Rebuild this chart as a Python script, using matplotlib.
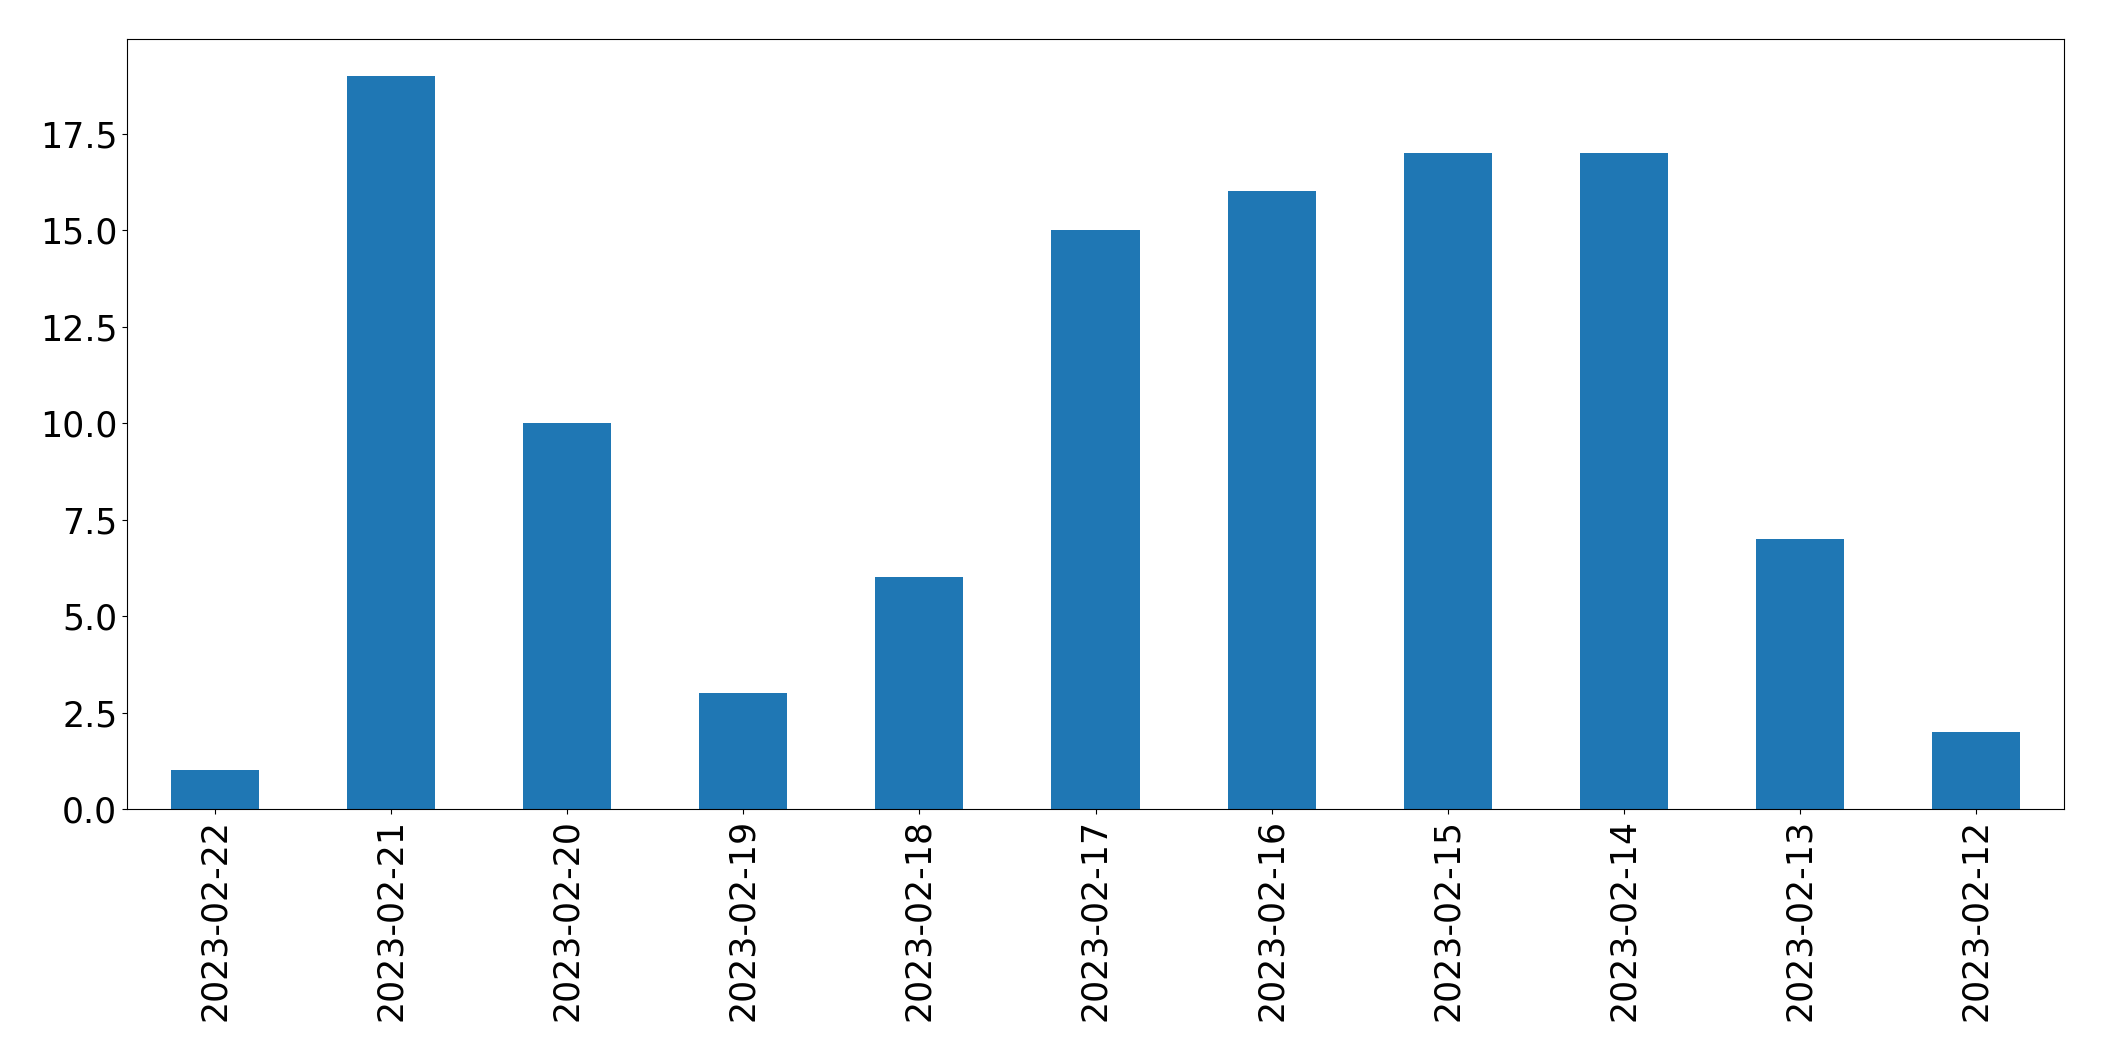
import matplotlib
matplotlib.use("Agg")
import matplotlib.pyplot as plt

# daily counts, newest first
dates = ["2023-02-22", "2023-02-21", "2023-02-20", "2023-02-19", "2023-02-18",
         "2023-02-17", "2023-02-16", "2023-02-15", "2023-02-14", "2023-02-13",
         "2023-02-12"]
counts = [1, 19, 10, 3, 6, 15, 16, 17, 17, 7, 2]

fig, ax = plt.subplots(figsize=(21.04, 10.61), dpi=100)
x = range(len(dates))
ax.bar(x, counts, width=0.5, color="#1f77b4")
ax.set_xlim(-0.5, len(dates) - 0.5)
ax.set_xticks(list(x))
ax.set_xticklabels(dates, rotation=90)
ax.tick_params(labelsize=25)

fig.subplots_adjust(left=127 / 2104, right=2064 / 2104, top=1 - 39 / 1061, bottom=1 - 809 / 1061)
fig.savefig("out.png", dpi=100)
